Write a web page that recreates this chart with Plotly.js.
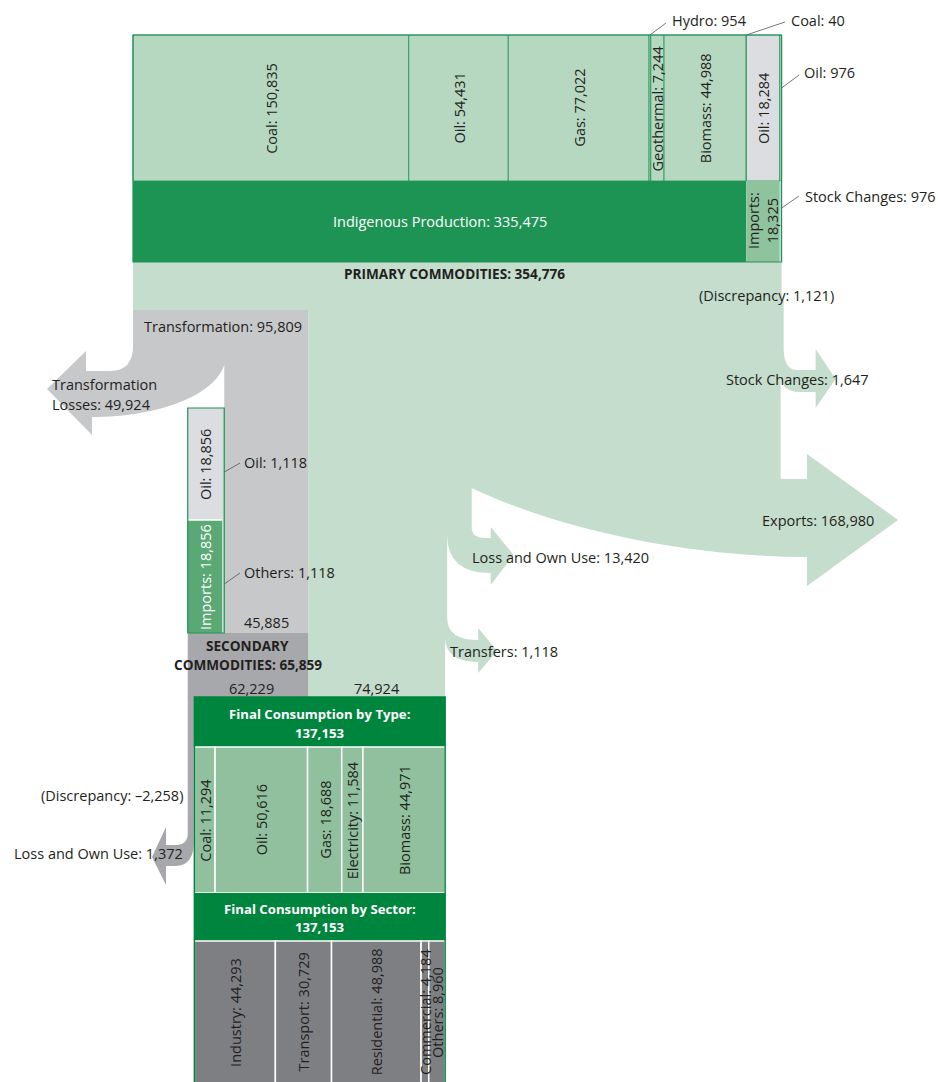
<!DOCTYPE html>
<html>
<head>
<meta charset="utf-8">
<script src="https://cdn.plot.ly/plotly-3.0.1.min.js"></script>
<style>
  body { margin: 0; background: #fff; }
  #chart { width: 938px; height: 1082px; }
</style>
</head>
<body>
<div id="chart"></div>
<script>
// primary supply
const primaryFuels = ['Coal', 'Oil', 'Gas', 'Hydro', 'Geothermal', 'Biomass']
const primaryValues = [150835, 54431, 77022, 954, 7244, 44988]
const importFuels = ['Coal', 'Oil']
const importValues = [40, 18284]
const stockFuels = ['Oil']
const stockValues = [976]
const sourceLabels = ['Indigenous Production', 'Imports', 'Stock Changes']
const sourceValues = [335475, 18325, 976]
const primaryTotal = 354776

// flows out of primary commodities
const discrepancyPrimary = 1121
const stockChangesOut = 1647
const exportsOut = 168980
const lossOwnUsePrimary = 13420
const transfersOut = 1118
const transformationIn = 95809
const transformationLosses = 49924
const transformationOut = 45885
const primaryToFinal = 74924

// secondary commodities
const secondaryFuels = ['Oil', 'Oil']
const secondaryFuelValues = [18856, 1118]
const secondarySources = ['Imports', 'Others']
const secondarySourceValues = [18856, 1118]
const secondaryTotal = 65859
const secondaryToFinal = 62229
const lossOwnUseSecondary = 1372
const discrepancySecondary = -2258

// final consumption
const finalTotal = 137153
const typeLabels = ['Coal', 'Oil', 'Gas', 'Electricity', 'Biomass']
const typeValues = [11294, 50616, 18688, 11584, 44971]
const sectorLabels = ['Industry', 'Transport', 'Residential', 'Commercial', 'Others']
const sectorValues = [44293, 30729, 48988, 4184, 8960]

const FONT = "'Open Sans', 'Noto Sans', sans-serif"
const FS = 14.5
const INK = '#231f20'
const LIGHT_FLOW = '#c4ddcc'
const BOX_LIGHT = '#b6d7c0'
const GREEN_DARK = '#1e9454'
const GREEN_MID = '#8fc39e'
const OIL_GRAY = '#dcdde0'
const GRAY_FLOW = '#c7c8ca'
const GRAY_DARK = '#a7a8ab'
const FINAL_GREEN = '#00853e'
const TYPE_GREEN = '#90c09d'
const SECTOR_GRAY = '#7e7f82'
const IMPORT_GREEN = '#5aa873'

// energy units per screen pixel, and where the x axis starts
const K = 547
const X0 = 133
const px = p => (p - X0) * K     // page position -> axis units
const w = p => p * K             // page length -> axis units
const fmt = v => Math.abs(v).toLocaleString('en-US')

const shapes = []
const annotations = []

function rect(x0, x1, y0, y1, fill, line) {
    shapes.push({type: 'rect', xref: 'x', yref: 'y', x0, x1, y0, y1,
        fillcolor: fill, line: line || {width: 0}})
}
function path(d, fill) {
    shapes.push({type: 'path', xref: 'x', yref: 'y', path: d, fillcolor: fill, line: {width: 0}})
}
function seg(x0, y0, x1, y1, color, width) {
    shapes.push({type: 'line', xref: 'x', yref: 'y', x0, y0, x1, y1,
        line: {color: color || '#555', width: width || 0.8}})
}
function label(x, y, text, opts) {
    annotations.push(Object.assign({xref: 'x', yref: 'y', x, y, text, showarrow: false,
        font: {family: FONT, size: FS, color: INK}}, opts || {}))
}
function vlabel(x, y, text, color) {
    label(x, y, text, {textangle: -90, font: {family: FONT, size: FS, color: color || INK}})
}
function bold(x, y, text, color, size) {
    label(x, y, '<b>' + text + '</b>', {font: {family: FONT, size: size || 13.6, color: color || INK}})
}
const P = (x, y) => x + ',' + y

// ---- flow of primary commodities (light green) ----
const R0 = primaryTotal
const R1 = R0 + discrepancyPrimary
const R2 = R1 - stockChangesOut
const E = R2 - exportsOut
const F = E - lossOwnUsePrimary
const G = F - transfersOut
const T = transformationIn

path([
    'M', P(0, 262), 'L', P(R0, 262), 'L', P(R0, 300), 'L', P(R1, 300), 'L', P(R1, 348),
    // stock changes
    'Q', P(R1, 370), P(R1 + w(14), 370),
    'L', P(R1 + w(32), 370), 'L', P(R1 + w(32), 349), 'L', P(R1 + w(52), 379),
    'L', P(R1 + w(32), 408), 'L', P(R1 + w(32), 392), 'L', P(R2 + w(19), 392),
    'Q', P(R2, 392), P(R2, 373),
    // exports
    'L', P(R2, 479), 'L', P(px(807), 479), 'L', P(px(807), 454), 'L', P(px(898), 520),
    'L', P(px(807), 586), 'L', P(px(807), 557),
    'C', P(px(690), 557), P(px(560), 530), P(E, 488),
    // loss and own use
    'L', P(E, 528), 'Q', P(E, 538), P(E + w(14), 538),
    'L', P(E + w(19), 538), 'L', P(E + w(19), 527), 'L', P(E + w(42), 555),
    'L', P(E + w(19), 585), 'L', P(E + w(19), 573),
    'Q', P(F, 573), P(F, 535),
    // transfers
    'L', P(F, 618), 'Q', P(F, 640), P(F + w(31), 640),
    'L', P(F + w(31), 628), 'L', P(F + w(50), 651), 'L', P(F + w(31), 673), 'L', P(F + w(31), 662),
    'Q', P(G, 662), P(G, 637),
    'L', P(G, 698), 'L', P(T, 698), 'L', P(T, 310), 'L', P(0, 310), 'Z'
].join(' '), LIGHT_FLOW)

// ---- transformation (grey) ----
const L1 = transformationLosses
path([
    'M', P(0, 310), 'L', P(T, 310), 'L', P(T, 633), 'L', P(T - transformationOut, 633),
    'L', P(L1, 365),
    'C', P(L1 - w(10), 395), P(px(160), 417), P(px(92), 417),
    'L', P(px(92), 435), 'L', P(px(47), 389), 'L', P(px(86), 351), 'L', P(px(86), 371),
    'L', P(px(110), 371), 'Q', P(0, 371), P(0, 346), 'Z'
].join(' '), GRAY_FLOW)

// ---- secondary commodities ----
const S0 = T - secondaryTotal
const S1 = T - secondaryToFinal
rect(S0, T, 633, 698, GRAY_DARK)
path([
    'M', P(S0, 697), 'L', P(S1, 697), 'L', P(S1, 838), 'Q', P(S1, 866), P(px(176), 866),
    'L', P(px(166), 866), 'L', P(px(166), 885), 'L', P(px(152), 857), 'L', P(px(166), 827),
    'L', P(px(166), 845), 'L', P(px(176), 845), 'Q', P(S0, 845), P(S0, 833), 'Z'
].join(' '), GRAY_DARK)

// secondary imports box: fuel row on top, source row below
let sx = S0
secondaryFuels.forEach((f, i) => {
    const v = secondaryFuelValues[i]
    rect(sx, sx + v, 408, 520, i === 0 ? OIL_GRAY : LIGHT_FLOW)
    if (i === 0) vlabel(sx + v / 2, 464, f + ': ' + fmt(v))
    sx += v
})
sx = S0
secondarySources.forEach((s, i) => {
    const v = secondarySourceValues[i]
    rect(sx, sx + v, 520, 633, i === 0 ? IMPORT_GREEN : LIGHT_FLOW)
    if (i === 0) vlabel(sx + v / 2, 577, s + ': ' + fmt(v), '#fff')
    sx += v
})
seg(S0, 520, S0 + secondaryFuelValues[0], 520, '#fff', 1.5)
rect(S0, L1, 408, 633, 'rgba(0,0,0,0)', {color: GREEN_DARK, width: 1.2})
seg(L1, 472, px(240), 463)
label(px(242), 462, secondaryFuels[1] + ': ' + fmt(secondaryFuelValues[1]), {xanchor: 'left'})
seg(L1, 584, px(240), 573)
label(px(242), 572, secondarySources[1] + ': ' + fmt(secondarySourceValues[1]), {xanchor: 'left'})

// ---- primary block ----
const row1 = primaryValues.map((v, i) => ({name: primaryFuels[i], v, fill: BOX_LIGHT}))
    .concat(importValues.map((v, i) => ({name: importFuels[i], v, fill: i === 1 ? OIL_GRAY : BOX_LIGHT})))
    .concat(stockValues.map((v, i) => ({name: stockFuels[i], v, fill: LIGHT_FLOW})))
let x = 0
row1.forEach((d, i) => {
    rect(x, x + d.v, 35, 181, d.fill, {color: GREEN_DARK, width: 0.8})
    if (d.v > 5000) vlabel(x + d.v / 2, 108, d.name + ': ' + fmt(d.v))
    d.x0 = x
    x += d.v
})
const sourceFills = [GREEN_DARK, GREEN_MID, LIGHT_FLOW]
x = 0
sourceValues.forEach((v, i) => {
    rect(x, x + v, 181, 262, sourceFills[i])
    if (i === 0) label(x + v / 2, 221, sourceLabels[i] + ': ' + fmt(v), {font: {family: FONT, size: FS, color: '#fff'}})
    if (i === 1) label(x + v / 2, 221, sourceLabels[i] + ':<br>' + fmt(v), {textangle: -90})
    x += v
})
rect(0, primaryTotal, 35, 262, 'rgba(0,0,0,0)', {color: GREEN_DARK, width: 1.2})

// small items get leader lines
const hydro = row1[3], coalImp = row1[6], oilStock = row1[8]
seg(hydro.x0 + hydro.v / 2, 35, px(666), 23)
label(px(670), 20, hydro.name + ': ' + fmt(hydro.v), {xanchor: 'left'})
seg(coalImp.x0, 35, px(785), 22)
label(px(789), 20, coalImp.name + ': ' + fmt(coalImp.v), {xanchor: 'left'})
seg(primaryTotal, 88, px(799), 75)
label(px(802), 72, oilStock.name + ': ' + fmt(oilStock.v), {xanchor: 'left'})
seg(primaryTotal, 208, px(799), 196)
label(px(803), 196, sourceLabels[2] + ': ' + fmt(sourceValues[2]), {xanchor: 'left'})

bold(primaryTotal / 2 - w(3), 273, 'PRIMARY COMMODITIES: ' + fmt(primaryTotal))
label(px(697), 295, '(Discrepancy: ' + fmt(discrepancyPrimary) + ')', {xanchor: 'left'})
label(px(724), 379, 'Stock Changes: ' + fmt(stockChangesOut), {xanchor: 'left'})
label(px(760), 520, 'Exports: ' + fmt(exportsOut), {xanchor: 'left'})
label(px(470), 557, 'Loss and Own Use: ' + fmt(lossOwnUsePrimary), {xanchor: 'left'})
label(px(448), 651, 'Transfers: ' + fmt(transfersOut), {xanchor: 'left'})
label(px(142), 326, 'Transformation: ' + fmt(transformationIn), {xanchor: 'left'})
label(px(50), 384, 'Transformation', {xanchor: 'left'})
label(px(50), 404, 'Losses: ' + fmt(transformationLosses), {xanchor: 'left'})
label((L1 + T) / 2, 622, fmt(transformationOut))
bold((S0 + T) / 2, 645, 'SECONDARY')
bold((S0 + T) / 2, 664, 'COMMODITIES: ' + fmt(secondaryTotal))
label((S1 + T) / 2, 688, fmt(secondaryToFinal))
label((T + G) / 2, 688, fmt(primaryToFinal))
label(px(185), 795, '(Discrepancy: –' + fmt(discrepancySecondary) + ')', {xanchor: 'right'})
label(px(12), 853, 'Loss and Own Use: ' + fmt(lossOwnUseSecondary), {xanchor: 'left'})

// ---- final consumption ----
const F0 = S1
rect(F0, F0 + finalTotal, 697, 747, FINAL_GREEN)
bold(F0 + finalTotal / 2, 714, 'Final Consumption by Type:', '#fff', 13.2)
bold(F0 + finalTotal / 2, 733, fmt(finalTotal), '#fff', 13.2)
x = F0
typeValues.forEach((v, i) => {
    rect(x, x + v, 747, 893, TYPE_GREEN, {color: '#fff', width: 1.5})
    vlabel(x + v / 2, 820, typeLabels[i] + ': ' + fmt(v))
    x += v
})
rect(F0, F0 + finalTotal, 893, 941, FINAL_GREEN)
bold(F0 + finalTotal / 2, 909, 'Final Consumption by Sector:', '#fff', 13.2)
bold(F0 + finalTotal / 2, 927, fmt(finalTotal), '#fff', 13.2)
x = F0
sectorValues.forEach((v, i) => {
    rect(x, x + v, 941, 1090, SECTOR_GRAY, {color: '#fff', width: 1.5})
    vlabel(x + v / 2, 1012, sectorLabels[i] + ': ' + fmt(v))
    x += v
})
rect(F0, F0 + finalTotal, 697, 1090, 'rgba(0,0,0,0)', {color: FINAL_GREEN, width: 1.5})

Plotly.newPlot('chart', [{x: [], y: [], type: 'scatter', hoverinfo: 'skip'}], {
    width: 938,
    height: 1082,
    margin: {l: 0, r: 0, t: 0, b: 0},
    paper_bgcolor: '#fff',
    plot_bgcolor: '#fff',
    showlegend: false,
    xaxis: {range: [px(0), px(938)], visible: false, fixedrange: true},
    yaxis: {range: [1082, 0], visible: false, fixedrange: true},
    shapes,
    annotations
}, {staticPlot: true, displayModeBar: false})
</script>
</body>
</html>
